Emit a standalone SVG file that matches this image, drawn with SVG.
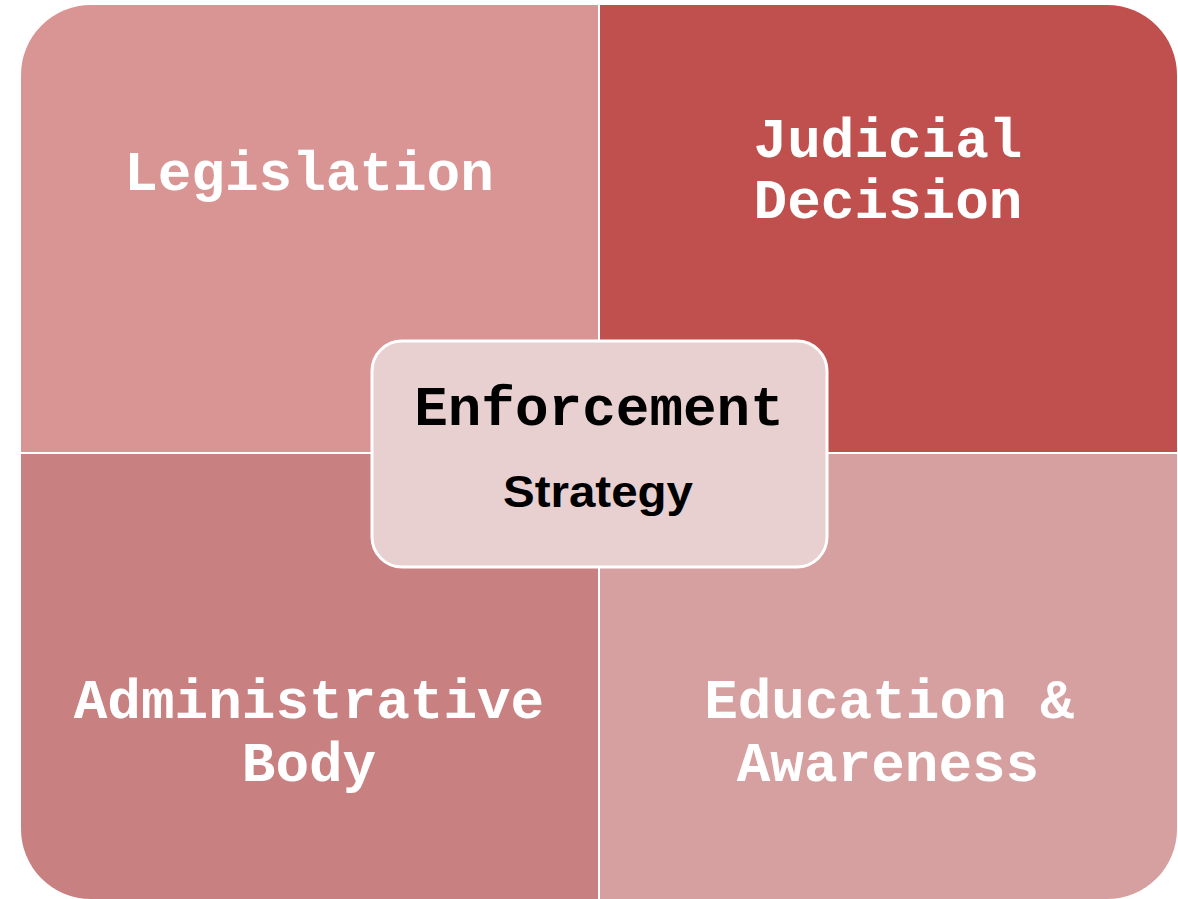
<svg xmlns="http://www.w3.org/2000/svg" width="1178" height="899" viewBox="0 0 1178 899">
<style>
.q{stroke:none}
.lbl{font-family:"Liberation Mono","Courier New",monospace;font-weight:bold;font-size:56px;fill:#ffffff;text-anchor:middle}
.ctr{font-family:"Liberation Mono","Courier New",monospace;font-weight:bold;font-size:56px;fill:#000000;text-anchor:middle}
.ctr2{font-family:"Liberation Sans",Arial,sans-serif;font-weight:bold;font-size:44px;fill:#000000;text-anchor:middle}
</style>
<rect width="1178" height="899" fill="#ffffff"/>
<g id="legislation">
<path class="q" fill="#D99594" d="M21,75 A70,70 0 0 1 91,5 L598,5 L598,452 L21,452 Z"/>
<text class="lbl" x="309" y="190">Legislation</text>
</g>
<g id="judicial">
<path class="q" fill="#C0504D" d="M600,5 L1107,5 A70,70 0 0 1 1177,75 L1177,452 L600,452 Z"/>
<text class="lbl" x="888" y="157">Judicial</text>
<text class="lbl" x="888" y="218">Decision</text>
</g>
<g id="administrative">
<path class="q" fill="#C88080" d="M21,454 L598,454 L598,899 L91,899 A70,70 0 0 1 21,829 Z"/>
<text class="lbl" x="309" y="718">Administrative</text>
<text class="lbl" x="309" y="781">Body</text>
</g>
<g id="education">
<path class="q" fill="#D7A0A0" d="M600,454 L1177,454 L1177,829 A70,70 0 0 1 1107,899 L600,899 Z"/>
<text class="lbl" x="889" y="718">Education &amp;</text>
<text class="lbl" x="888" y="781">Awareness</text>
</g>
<g id="connectors"></g>
<g id="center">
<rect x="372" y="341" width="455" height="226" rx="30" ry="30" fill="#E8CFD0" stroke="#ffffff" stroke-width="3"/>
<text class="ctr" x="599" y="425">Enforcement</text>
<text class="ctr2" x="598" y="507" textLength="190" lengthAdjust="spacingAndGlyphs">Strategy</text>
</g>
</svg>
